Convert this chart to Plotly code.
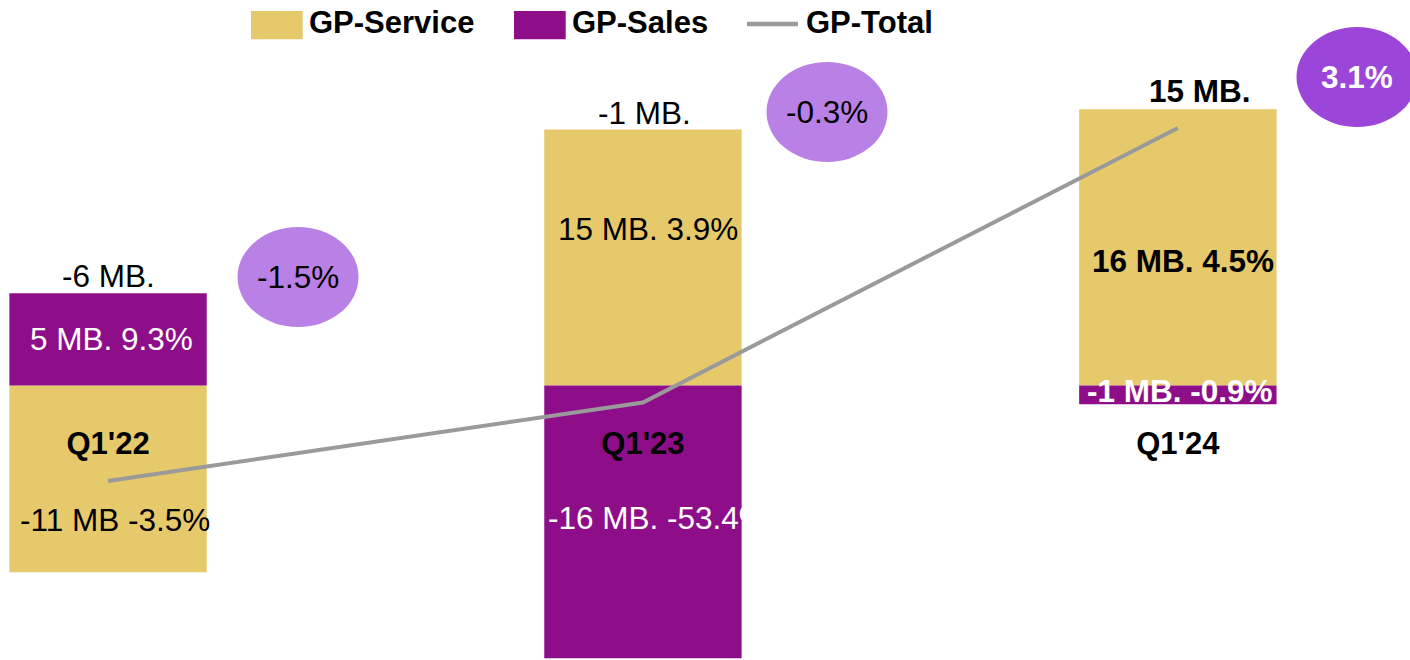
import plotly.graph_objects as go

# ---------------- data ----------------
categories = ["Q1'22", "Q1'23", "Q1'24"]
gp_service = [-10.95, 15.0, 16.2]
gp_sales = [5.4, -16.0, -1.1]
gp_total = [-5.6, -1.0, 15.1]

service_labels = ["-11 MB -3.5%", "15 MB. 3.9%", "16 MB. 4.5%"]
sales_labels = ["5 MB. 9.3%", "-16 MB. -53.4%", "-1 MB. -0.9%"]
total_labels = ["-6 MB.", "-1 MB.", "15 MB."]
growth_labels = ["-1.5%", "-0.3%", "3.1%"]

# ---------------- style ----------------
W, H = 1410, 660
YELLOW = "#E6C96A"
PURPLE = "#8E0E8A"
GRAY = "#9A9A9A"
ELL_LIGHT = "#B980E6"
ELL_DARK = "#9B45D9"
FONT = "Arial, Liberation Sans, sans-serif"
FS = 31.5
YMIN, YMAX = -16.1, 22.6
XMIN, XMAX = -0.202, 2.434
BAR_W = 0.369

bold_cat = [False, False, True]
service_shift = [(7, -41), (5, 29), (5, -14)]
sales_shift = [(3, 0), (15, 4), (2, 4)]
total_shift = [(0, 17), (2, 17), (22, 18)]
ell_centers_px = [(298, 277), (827, 112), (1357, 77)]
ell_fill = [ELL_LIGHT, ELL_LIGHT, ELL_DARK]
ell_text_color = ["black", "black", "white"]
ell_bold = [False, False, True]
ELL_W, ELL_H = 121, 100


def px(x):
    return x / W


def py(y):
    return 1 - y / H


fig = go.Figure()
fig.add_trace(go.Bar(x=categories, y=gp_service, name="GP-Service",
                     marker=dict(color=YELLOW, line=dict(width=0)), width=BAR_W))
fig.add_trace(go.Bar(x=categories, y=gp_sales, name="GP-Sales",
                     marker=dict(color=PURPLE, line=dict(width=0)), width=BAR_W))
fig.add_trace(go.Scatter(x=categories, y=gp_total, name="GP-Total", mode="lines",
                         line=dict(color=GRAY, width=4)))

annotations = []
shapes = []


def wrap(t, b):
    return f"<b>{t}</b>" if b else t


for i, c in enumerate(categories):
    s, p = gp_service[i], gp_sales[i]
    # segment mid points (relative stacking)
    pos_base, neg_base = 0.0, 0.0
    mids = []
    for v in (s, p):
        if v >= 0:
            mids.append(pos_base + v / 2)
            pos_base += v
        else:
            mids.append(neg_base + v / 2)
            neg_base += v
    top = pos_base
    b = bold_cat[i]
    annotations.append(dict(x=c, y=mids[0], text=wrap(service_labels[i], b), showarrow=False,
                            xshift=service_shift[i][0], yshift=service_shift[i][1],
                            xanchor="center", yanchor="middle",
                            font=dict(size=FS, color="black", family=FONT)))
    annotations.append(dict(x=c, y=mids[1], text=wrap(sales_labels[i], b), showarrow=False,
                            xshift=sales_shift[i][0], yshift=sales_shift[i][1],
                            xanchor="center", yanchor="middle",
                            font=dict(size=FS, color="white", family=FONT)))
    annotations.append(dict(x=c, y=top, text=wrap(total_labels[i], b), showarrow=False,
                            xshift=total_shift[i][0], yshift=total_shift[i][1],
                            xanchor="center", yanchor="middle",
                            font=dict(size=FS, color="black", family=FONT)))
    cx, cy = ell_centers_px[i]
    shapes.append(dict(type="circle", xref="paper", yref="paper",
                       x0=px(cx - ELL_W / 2), x1=px(cx + ELL_W / 2),
                       y0=py(cy + ELL_H / 2), y1=py(cy - ELL_H / 2),
                       fillcolor=ell_fill[i], line=dict(width=0), layer="above"))
    annotations.append(dict(x=px(cx), y=py(cy), xref="paper", yref="paper",
                            xanchor="center", yanchor="middle",
                            text=wrap(growth_labels[i], ell_bold[i]), showarrow=False,
                            font=dict(size=FS, color=ell_text_color[i], family=FONT)))

# ---------------- custom legend ----------------
LEG_FS = 31
leg_items = [("GP-Service", YELLOW, "rect", 251, 307),
             ("GP-Sales", PURPLE, "rect", 514, 570),
             ("GP-Total", GRAY, "line", 747, 804)]
for name, col, kind, x0, tx in leg_items:
    if kind == "rect":
        shapes.append(dict(type="rect", xref="paper", yref="paper",
                           x0=px(x0), x1=px(x0 + 51.7), y0=py(39.3), y1=py(11),
                           fillcolor=col, line=dict(width=0)))
    else:
        shapes.append(dict(type="line", xref="paper", yref="paper",
                           x0=px(x0), x1=px(x0 + 51), y0=py(24), y1=py(24),
                           line=dict(color=col, width=4.5)))
    annotations.append(dict(x=px(tx), y=py(22.5), xref="paper", yref="paper",
                            xanchor="left", yanchor="middle", showarrow=False,
                            text=f"<b>{name}</b>",
                            font=dict(size=LEG_FS, color="black", family=FONT)))

zero_frac = (0 - YMIN) / (YMAX - YMIN)

fig.update_layout(
    width=W, height=H,
    margin=dict(l=0, r=0, t=0, b=0),
    barmode="relative",
    plot_bgcolor="white", paper_bgcolor="white",
    showlegend=False,
    font=dict(family=FONT, size=FS, color="black"),
    xaxis=dict(type="category", range=[XMIN, XMAX], showgrid=False, zeroline=False,
               showline=False, ticks="", anchor="free", position=zero_frac,
               tickfont=dict(size=31, family=FONT, color="black", weight="bold"),
               ticklabelstandoff=37),
    yaxis=dict(range=[YMIN, YMAX], visible=False, showgrid=False, zeroline=False),
    annotations=annotations,
    shapes=shapes,
)

fig.write_html("out.html", config={"displayModeBar": False},
               post_script="document.body.style.margin='0';")
